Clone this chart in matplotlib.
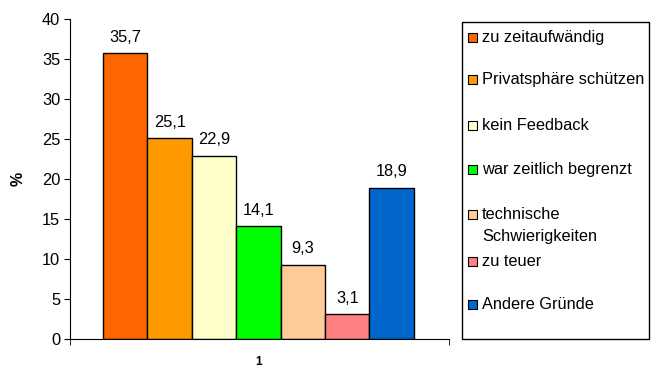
import matplotlib
matplotlib.use("Agg")
import matplotlib.pyplot as plt
from matplotlib.patches import Rectangle

categories = ["zu zeitaufwändig", "Privatsphäre schützen", "kein Feedback",
              "war zeitlich begrenzt", "technische\nSchwierigkeiten", "zu teuer",
              "Andere Gründe"]
values = [35.7, 25.1, 22.9, 14.1, 9.3, 3.1, 18.9]
colors = ["#FF6600", "#FF9900", "#FFFFCC", "#00FF00", "#FFCC99", "#FF8080", "#0066CC"]
value_labels = ["35,7", "25,1", "22,9", "14,1", "9,3", "3,1", "18,9"]
group_label = "1"
yticks = [0, 5, 10, 15, 20, 25, 30, 35, 40]

plt.rcParams['font.family'] = ['Liberation Sans', 'DejaVu Sans']
W, H = 655, 368
fig = plt.figure(figsize=(W / 100, H / 100), dpi=100)
ax = fig.add_axes([70 / W, 1 - 339 / H, 379 / W, 320 / H])

xs = list(range(len(values)))
ax.bar(xs, values, width=1.0, color=colors, edgecolor="black", linewidth=1.0)
for x, v, lab in zip(xs, values, value_labels):
    ax.annotate(lab, (x, v), xytext=(0, 6), textcoords="offset points",
                ha="center", va="bottom", fontsize=11.8)

ax.set_xlim(-1.243, 7.29)
ax.set_ylim(0, 40)
ax.set_yticks(yticks)
ax.set_yticklabels([str(t) for t in yticks], fontsize=11.8)
ax.set_xticks([3.0])
ax.set_xticklabels([group_label], fontsize=8.5, fontweight="bold")
ax.tick_params(axis="x", which="major", length=0, pad=12)
ax.set_xticks([-1.243, 7.29], minor=True)
ax.tick_params(axis="x", which="minor", length=4, direction="out")
ax.tick_params(axis="y", length=4, direction="out", pad=3)
ax.spines["top"].set_visible(False)
ax.spines["right"].set_visible(False)
ax.set_ylabel("%", fontsize=11.5, fontweight="bold", labelpad=12)

# legend box
fig.patches.append(Rectangle((462 / W, 1 - 339 / H), (649 - 462) / W, (339 - 22) / H,
                             transform=fig.transFigure, fill=False,
                             edgecolor="black", linewidth=1.0))
ys = [37, 79, 125, 169, 214, 261, 304]
for y, c, lab in zip(ys, colors, categories):
    fig.patches.append(Rectangle((468 / W, 1 - (y + 5) / H), 9 / W, 9 / H,
                                 transform=fig.transFigure, facecolor=c,
                                 edgecolor="black", linewidth=0.8))
    fig.text(482 / W, 1 - (y - 7) / H, lab, fontsize=11.8, ha="left", va="top",
             linespacing=1.55)

fig.savefig("out.png", dpi=100)
